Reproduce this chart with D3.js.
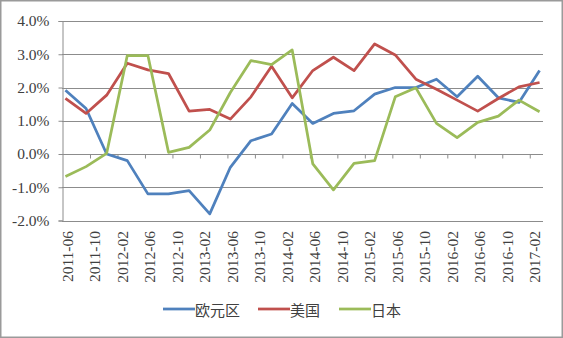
<!DOCTYPE html>
<html>
<head>
<meta charset="utf-8">
<script src="https://cdn.jsdelivr.net/npm/d3@7"></script>
<style>
  html, body { margin: 0; padding: 0; background: #fff; }
  svg { display: block; }
</style>
</head>
<body>
<svg id="chart" width="563" height="338"></svg>
<script>
// ---- data ----
const dates = ["2011-06","2011-09","2011-12","2012-03","2012-06","2012-09","2012-12","2013-03",
  "2013-06","2013-09","2013-12","2014-03","2014-06","2014-09","2014-12","2015-03",
  "2015-06","2015-09","2015-12","2016-03","2016-06","2016-09","2016-12","2017-03"];
const tickLabels = ["2011-06","2011-10","2012-02","2012-06","2012-10","2013-02","2013-06","2013-10",
  "2014-02","2014-06","2014-10","2015-02","2015-06","2015-10","2016-02","2016-06","2016-10","2017-02"];
const seriesNames = ["欧元区","美国","日本"];
const euro  = [1.92,1.37,0.00,-0.20,-1.20,-1.20,-1.10,-1.80,-0.40,0.40,0.60,1.52,0.92,1.22,1.30,1.80,2.00,2.00,2.25,1.72,2.34,1.69,1.55,2.51];
const usa   = [1.67,1.22,1.77,2.73,2.53,2.42,1.29,1.34,1.05,1.72,2.64,1.69,2.51,2.91,2.51,3.31,2.98,2.25,1.95,1.62,1.29,1.67,2.02,2.15];
const japan = [-0.68,-0.38,0.02,2.96,2.96,0.05,0.20,0.72,1.85,2.81,2.69,3.13,-0.30,-1.08,-0.28,-0.20,1.72,1.99,0.92,0.49,0.95,1.14,1.62,1.27];
const yTicks = [-2,-1,0,1,2,3,4];
const colors = ["#4F81BD","#C0504D","#9BBB59"];

// ---- layout ----
const svg = d3.select("#chart");
const W = 563, H = 338;
const plot = {left: 62, right: 543, top: 21, bottom: 220.5};
const base = {y: 2011, m: 6};
const monthIndex = s => { const [y, m] = s.split("-").map(Number); return (y - base.y) * 12 + (m - base.m); };
const lastIdx = monthIndex(dates[dates.length - 1]);

const x = d3.scaleLinear().domain([-0.5, lastIdx + 0.5]).range([plot.left, plot.right]);
const y = d3.scaleLinear().domain([-2, 4]).range([plot.bottom, plot.top]);

// outer border
svg.append("rect").attr("x", 0.75).attr("y", 0.75).attr("width", W - 1.5).attr("height", H - 1.5)
  .attr("fill", "#fff").attr("stroke", "#9a9a9a").attr("stroke-width", 1.5);

// gridlines
svg.append("g").selectAll("line").data(yTicks).join("line")
  .attr("x1", plot.left).attr("x2", plot.right)
  .attr("y1", d => Math.round(y(d)) + 0.5).attr("y2", d => Math.round(y(d)) + 0.5)
  .attr("stroke", "#8c8c8c").attr("stroke-width", 1);

// y axis
const yAxis = d3.axisLeft(y).tickValues(yTicks).tickSize(4).tickPadding(9)
  .tickFormat(d => d.toFixed(1) + "%");
const gy = svg.append("g").attr("transform", `translate(${plot.left + 0.5},0)`).call(yAxis);
gy.select(".domain").attr("stroke", "#8c8c8c");
gy.selectAll(".tick line").attr("stroke", "#8c8c8c");
gy.selectAll(".tick text").attr("font-family", "'Liberation Serif', 'Times New Roman', serif")
  .attr("font-size", 15.5).attr("fill", "#404040");

// x axis ticks on the 0% line
const tickIdx = tickLabels.map(monthIndex);
const xAxis = d3.axisBottom(x).tickValues(tickIdx.map(i => i - 0.5).filter(v => v > -0.5))
  .tickSize(4).tickFormat("");
const gx = svg.append("g").attr("transform", `translate(0.5,${Math.round(y(0)) + 0.5})`).call(xAxis);
gx.select(".domain").remove();
gx.selectAll(".tick line").attr("stroke", "#8c8c8c");

// x labels at bottom
svg.append("g").selectAll("text").data(tickLabels).join("text")
  .attr("transform", d => `translate(${x(monthIndex(d)) + 2},231) rotate(-90)`)
  .attr("text-anchor", "end").attr("dominant-baseline", "central")
  .attr("font-family", "'Liberation Serif', 'Times New Roman', serif")
  .attr("font-size", 15.5).attr("fill", "#404040")
  .text(d => d);

// lines
const allSeries = [euro, usa, japan];
const line = d3.line().x((d, i) => x(monthIndex(dates[i]))).y(d => y(d));
svg.append("g").selectAll("path").data(allSeries).join("path")
  .attr("d", d => line(d)).attr("fill", "none")
  .attr("stroke", (d, i) => colors[i]).attr("stroke-width", 2.75)
  .attr("stroke-linejoin", "round");

// legend
const legendX = [163, 258, 339];
const lg = svg.append("g").selectAll("g").data(seriesNames).join("g")
  .attr("transform", (d, i) => `translate(${legendX[i]},309)`);
lg.append("line").attr("x1", 0).attr("x2", 32).attr("y1", 0).attr("y2", 0)
  .attr("stroke", (d, i) => colors[i]).attr("stroke-width", 2.75);
lg.append("text").attr("x", 32).attr("y", 0).attr("dominant-baseline", "central")
  .attr("font-family", "'Noto Sans CJK SC', sans-serif").attr("font-size", 15)
  .attr("fill", "#404040").text(d => d);
</script>
</body>
</html>
